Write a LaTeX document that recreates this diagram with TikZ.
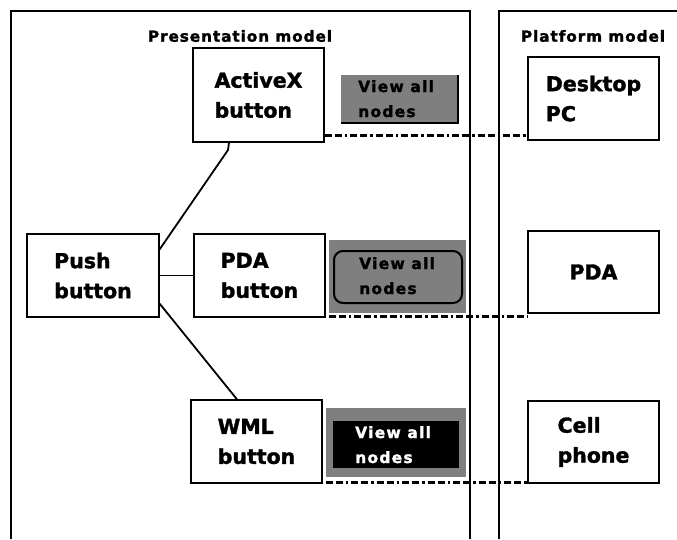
\documentclass[tikz,border=0pt]{standalone}
\usepackage{fontspec}
\setmainfont{DejaVu Sans}[BoldFeatures={FakeBold=1.6}]
\newfontfamily\headfont{DejaVu Sans}[LetterSpace=6, BoldFeatures={FakeBold=1.6}]
\newfontfamily\viewfont{DejaVu Sans}[LetterSpace=8, BoldFeatures={FakeBold=1.6}]
\usetikzlibrary{calc}
\definecolor{btngray}{HTML}{7F7F7F}
\tikzset{
  box/.style={draw=black, line width=1.3pt, fill=white, inner sep=0pt,
    minimum width=131pt, align=left,
    font=\fontsize{20.5}{30}\selectfont\bfseries},
  head/.style={inner sep=0pt, font=\headfont\fontsize{15.3}{17}\selectfont\bfseries},
  viewtxt/.style={inner sep=0pt, align=left,
    font=\viewfont\fontsize{15.5}{25}\selectfont\bfseries},
  panel/.style={line width=1.3pt},
  link/.style={line width=1.8pt},
  mapline/.style={line width=3pt, dash pattern=on 7pt off 3pt on 7pt off 3pt on 2.5pt off 3pt},
}
\begin{document}
\begin{tikzpicture}[x=1pt, y=-1pt]
\useasboundingbox (0,0) rectangle (677,539);

% panels
\draw[panel] (11,539) -- (11,11) -- (470,11) -- (470,539);
\draw[panel] (499,539) -- (499,11) -- (679,11);
\node[head] (phead) at (240,36) {Presentation model};
\node[head] (plhead) at (593,36) {Platform model};

% presentation model
\node[box, minimum width=131pt, minimum height=94pt] (activex) at (258.5,95) {ActiveX\\button};
\node[box, minimum width=132pt, minimum height=83pt] (push) at (93,275.5) {Push\\button};
\node[box, minimum width=131pt, minimum height=83pt] (pdab) at (259.5,275.5) {PDA\\button};
\node[box, minimum width=131pt, minimum height=83pt] (wml) at (256.5,441.5) {WML\\button};

% platform model
\node[box, minimum height=83pt] (desktop) at (593.5,98.5) {Desktop\\PC};
\node[box, minimum height=82pt] (platpda) at (593.5,272) {PDA};
\node[box, minimum height=82pt] (cell) at (593.5,442) {Cell\\phone};

% "View all nodes" widgets (text anchored on the baseline of its last line)
\node[fill=btngray, minimum width=117pt, minimum height=48pt, inner sep=0pt] (view1) at (399.5,99) {};
\draw[line width=2pt] (view1.south west) -- (view1.south east) -- (view1.north east);
\node[viewtxt, anchor=base west] (v1txt) at (358,117) {View all\\nodes};

\node[fill=btngray, minimum width=137pt, minimum height=73pt, inner sep=0pt] (view2) at (397.5,276.5) {};
\node[draw=black, line width=2pt, fill=btngray, rounded corners=9pt,
  minimum width=128pt, minimum height=52pt, inner sep=0pt] (view2in) at (398,277) {};
\node[viewtxt, anchor=base west] (v2txt) at (359,294) {View all\\nodes};

\node[fill=btngray, minimum width=140pt, minimum height=69pt, inner sep=0pt] (view3) at (396,442.5) {};
\node[fill=black, minimum width=126pt, minimum height=47pt, inner sep=0pt] (view3in) at (396,444.5) {};
\node[viewtxt, text=white, anchor=base west] (v3txt) at (355,463) {View all\\nodes};

% refinement links
\draw[link] ([yshift=-16pt]push.north east) -- (228,150) -- ([xshift=-29.5pt]activex.south);
\draw[link] (push.east) -- (pdab.west);
\draw[link] ([yshift=14pt]push.south east) -- ([xshift=-19.5pt]wml.north);

% mappings to platforms
\coordinate (m1) at (0,135);
\coordinate (m2) at (0,316);
\coordinate (m3) at (0,482.5);
\draw[mapline] (activex.east |- m1) -- (desktop.west |- m1);
\draw[mapline] (view2.west |- m2) -- (platpda.west |- m2);
\draw[mapline] (view3.west |- m3) -- (cell.west |- m3);
\end{tikzpicture}
\end{document}
